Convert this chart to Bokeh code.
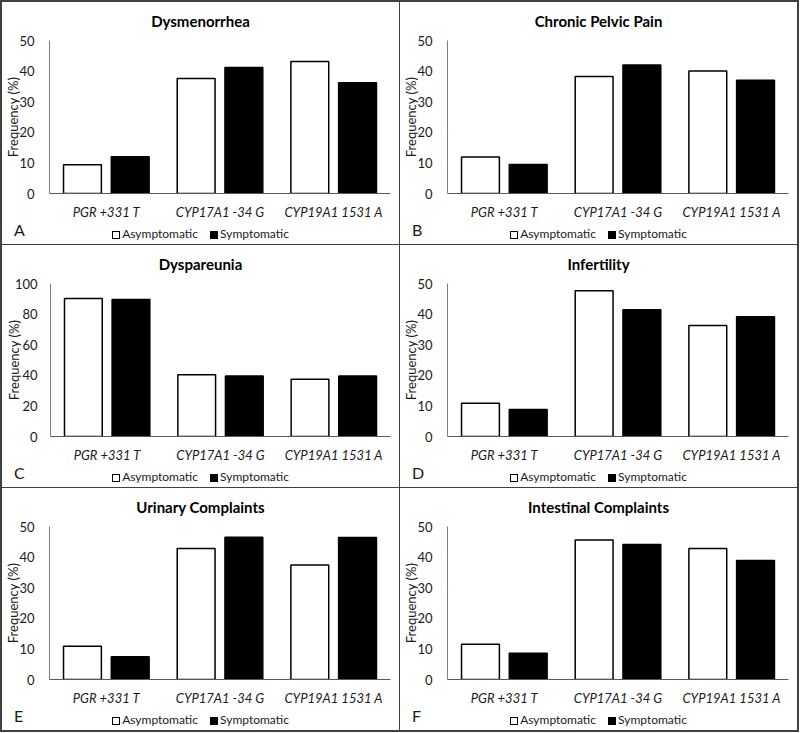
from bokeh.plotting import figure
from bokeh.models import (FactorRange, Range1d, ColumnDataSource, FixedTicker,
                          Spacer, Div)
from bokeh.transform import dodge
from bokeh.layouts import column, row
from bokeh.embed import file_html
from bokeh.resources import INLINE

categories = ["PGR +331 T", "CYP17A1 -34 G", "CYP19A1 1531 A"]
series_names = ["Asymptomatic", "Symptomatic"]
series_fill = ["white", "black"]

titles = ["Dysmenorrhea", "Chronic Pelvic Pain", "Dyspareunia",
          "Infertility", "Urinary Complaints", "Intestinal Complaints"]
letters = ["A", "B", "C", "D", "E", "F"]
y_max = [50, 50, 100, 50, 50, 50]
y_step = [10, 10, 20, 10, 10, 10]

asym_dysmenorrhea = [9.4, 37.6, 43.1]
symp_dysmenorrhea = [12.0, 41.2, 36.2]
asym_pelvic = [11.9, 38.2, 40.0]
symp_pelvic = [9.5, 42.0, 37.0]
asym_dyspareunia = [90.2, 40.3, 37.4]
symp_dyspareunia = [89.5, 39.6, 39.6]
asym_infertility = [10.9, 47.6, 36.3]
symp_infertility = [8.8, 41.4, 39.1]
asym_urinary = [10.9, 42.8, 37.4]
symp_urinary = [7.4, 46.5, 46.4]
asym_intestinal = [11.5, 45.6, 42.8]
symp_intestinal = [8.6, 44.1, 38.9]

asym_all = [asym_dysmenorrhea, asym_pelvic, asym_dyspareunia,
            asym_infertility, asym_urinary, asym_intestinal]
symp_all = [symp_dysmenorrhea, symp_pelvic, symp_dyspareunia,
            symp_infertility, symp_urinary, symp_intestinal]

FONT = "Lato"
TXT = "#1a1a1a"
W = 397          # panel width
H_TITLE = 30     # title strip
H_CHART = 190    # chart figure
H_LEG = 22       # legend strip
LEFT, RIGHT, TOP, BOTTOM = 46, 9, 8, 29
BORDER = "#404040"


def title_div(text):
    html = (f'<div style="position:relative;width:{W}px;height:{H_TITLE}px;">'
            f'<div style="position:absolute;left:0;right:0;top:11px;line-height:17px;'
            f'text-align:center;font-family:{FONT};font-weight:bold;font-size:15px;'
            f'color:#000;white-space:nowrap;">{text}</div></div>')
    return Div(text=html, width=W, height=H_TITLE, margin=0,
               styles={"background-color": "white", "overflow": "hidden"})


def legend_div(letter):
    items = []
    for name, fill in zip(series_names, series_fill):
        items.append(
            f'<span style="display:inline-block;width:8px;height:8px;'
            f'border:1px solid #000;background:{fill};vertical-align:-1px;'
            f'margin-right:2px;"></span>{name}')
    legend_html = '<span style="display:inline-block;width:12px;"></span>'.join(items)
    html = (f'<div style="position:relative;width:{W}px;height:{H_LEG}px;'
            f'font-family:{FONT};color:{TXT};">'
            f'<div style="position:absolute;left:12px;top:0px;font-size:16px;'
            f'line-height:15px;">{letter}</div>'
            f'<div style="position:absolute;left:0;right:0;top:5px;text-align:center;'
            f'font-size:12px;line-height:14px;white-space:nowrap;">{legend_html}</div>'
            f'</div>')
    return Div(text=html, width=W, height=H_LEG, margin=0,
               styles={"background-color": "white", "overflow": "hidden"})


def make_panel(i):
    src = ColumnDataSource(dict(cat=categories, asym=asym_all[i], symp=symp_all[i]))
    p = figure(x_range=FactorRange(*categories),
               y_range=Range1d(0, y_max[i]),
               width=W, height=H_CHART,
               output_backend="svg", toolbar_location=None,
               min_border_left=LEFT, min_border_right=RIGHT,
               min_border_top=TOP, min_border_bottom=BOTTOM,
               outline_line_color=None,
               background_fill_color=None, border_fill_color=None,
               styles={"background-color": "white"})
    p.vbar(x=dodge("cat", -0.21, range=p.x_range), top="asym", width=0.333,
           source=src, fill_color=series_fill[0], line_color="black", line_width=1.5)
    p.vbar(x=dodge("cat", 0.21, range=p.x_range), top="symp", width=0.333,
           source=src, fill_color=series_fill[1], line_color="black", line_width=1.5)

    p.xgrid.visible = False
    p.ygrid.visible = False

    three_digit = y_max[i] >= 100
    p.yaxis.ticker = FixedTicker(ticks=list(range(0, y_max[i] + 1, y_step[i])))
    p.yaxis.axis_label = "Frequency (%)"
    p.yaxis.axis_label_text_font = FONT
    p.yaxis.axis_label_text_font_style = "normal"
    p.yaxis.axis_label_text_font_size = "13px"
    p.yaxis.axis_label_text_color = TXT
    p.yaxis.axis_label_standoff = -10 if three_digit else -5
    p.yaxis.major_label_text_font = FONT
    p.yaxis.major_label_text_font_size = "13px"
    p.yaxis.major_label_text_color = TXT
    p.yaxis.major_label_standoff = 7 if three_digit else 9
    p.yaxis.major_tick_line_color = None
    p.yaxis.minor_tick_line_color = None
    p.yaxis.axis_line_color = "#7f7f7f"

    p.xaxis.major_label_text_font = FONT
    p.xaxis.major_label_text_font_style = "italic"
    p.xaxis.major_label_text_font_size = "13px"
    p.xaxis.major_label_text_color = TXT
    p.xaxis.major_label_standoff = 4
    p.xaxis.major_tick_line_color = None
    p.xaxis.minor_tick_line_color = None
    p.xaxis.axis_line_color = "#595959"

    return column(title_div(titles[i]), p, legend_div(letters[i]), spacing=0)


panels = [make_panel(i) for i in range(6)]
grid = column(row(panels[0], panels[1], spacing=1),
              row(panels[2], panels[3], spacing=1),
              row(panels[4], panels[5], spacing=1), spacing=1)
H_ALL = 3 * (H_TITLE + H_CHART + H_LEG) + 2
outer = column(Spacer(width=2 * W + 5, height=2),
               row(Spacer(width=2, height=H_ALL), grid, Spacer(width=2, height=H_ALL)),
               Spacer(width=2 * W + 5, height=2),
               background=BORDER)

open("out.html", "w").write(file_html(outer, INLINE))
